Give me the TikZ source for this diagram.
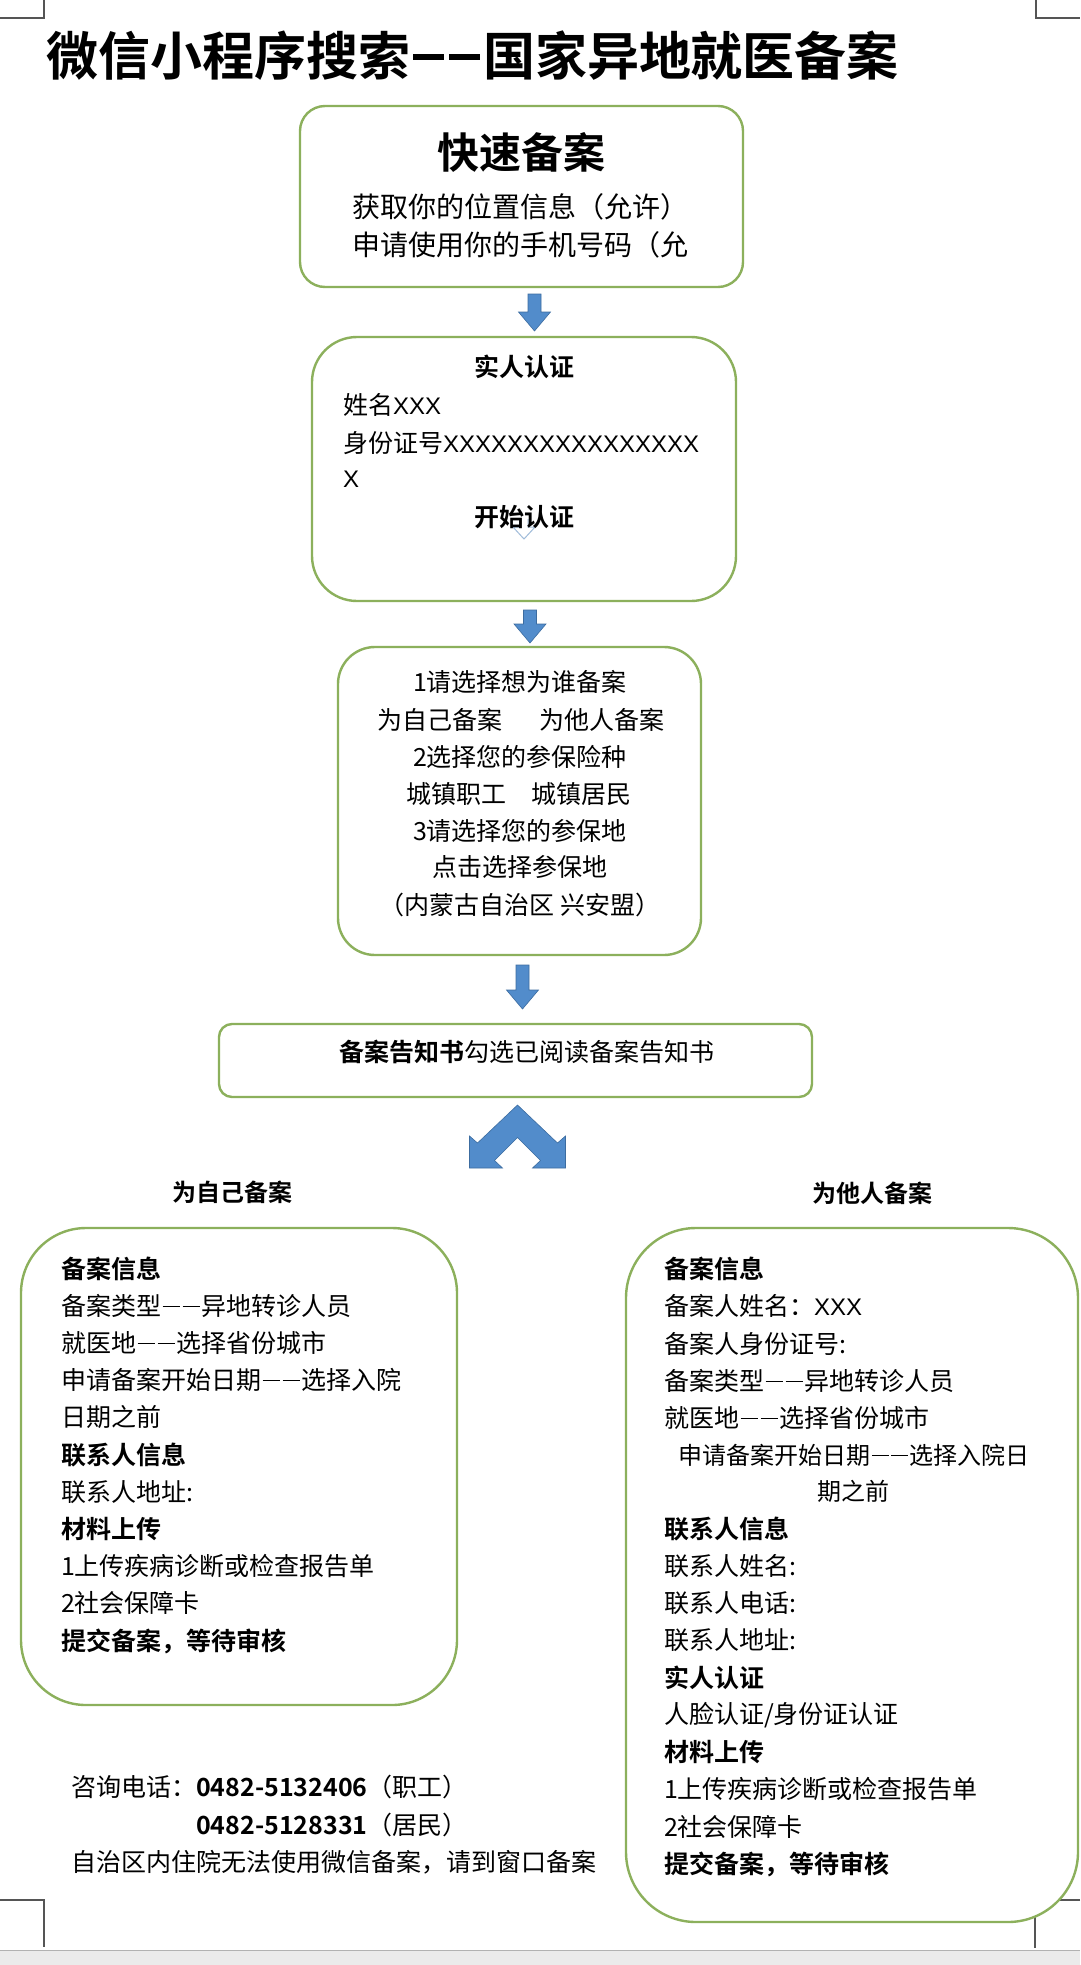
\documentclass[tikz,border=0pt]{standalone}
\usepackage{graphicx}
\usepackage{fontspec}
\setmainfont{Noto Sans CJK SC}[BoldFont={Noto Sans CJK SC Bold}]
\newfontfamily\latinx{Liberation Sans}
\usetikzlibrary{calc}
\definecolor{boxgreen}{RGB}{140,176,92}
\definecolor{arrowblue}{RGB}{82,140,203}
\definecolor{arrowedge}{RGB}{60,108,160}
\definecolor{markgray}{RGB}{85,85,85}
\definecolor{iconblue}{RGB}{160,188,218}
\newcommand\dbar[4]{\makebox[#1]{\rule[#4]{#2}{#3}}}
\newcommand\ddash{\dbar{0.8em}{0.68em}{0.07em}{0.33em}\dbar{0.8em}{0.68em}{0.07em}{0.33em}}
\newcommand\tdash{\dbar{0.7em}{0.6em}{0.11em}{0.31em}\dbar{0.7em}{0.6em}{0.11em}{0.31em}}
\newcommand\xx[1]{{\latinx\fontsize{24pt}{30pt}\selectfont #1}}
\tikzset{
  rbox/.style={draw=boxgreen, line width=2.4pt, fill=white, rounded corners=#1, inner sep=0pt, outer sep=0pt},
  txt/.style={inner sep=0pt, outer sep=0pt, text=black, font=\fontsize{25pt}{30pt}\selectfont},
  txtb/.style={inner sep=0pt, outer sep=0pt, text=black, font=\fontsize{25pt}{30pt}\selectfont\bfseries},
  cornermark/.style={draw=markgray, line width=1.4pt},
  pics/blockdown/.style={code={
    \fill[arrowblue, draw=arrowedge, line width=0.6pt]
      (-6.5,0) -- (6.5,0) -- (6.5,#1) -- (16,#1) -- (0,{#1+19}) -- (-16,#1) -- (-6.5,#1) -- cycle;
  }}
}
\begin{document}
\begin{tikzpicture}[x=1pt,y=-1pt]
\useasboundingbox (0,0) rectangle (1080,1965);
\fill[white] (0,0) rectangle (1080,1965);
% page corner marks and bottom strip
\draw[cornermark] (0,18) -- (44,18) -- (44,0);
\draw[cornermark] (1036,0) -- (1036,18) -- (1080,18);
\draw[cornermark] (0,1900) -- (44,1900) -- (44,1947);
\draw[cornermark] (1080,1900) -- (1035,1900) -- (1035,1948);
\fill[black!8] (0,1950) rectangle (1080,1965);
\draw[black!30, line width=1pt] (0,1950) -- (1080,1950);

% title
\node[inner sep=0pt, anchor=west, font=\fontsize{52pt}{56pt}\selectfont\bfseries] (title) at (46,56) {微信小程序搜索\tdash 国家异地就医备案};

% boxes
\node[rbox=25, minimum width=443pt, minimum height=181pt] (b1) at (521.5,196.5) {};
\node[rbox=45, minimum width=424pt, minimum height=264pt] (b2) at (524,469) {};
\node[rbox=37, minimum width=363pt, minimum height=308pt] (b3) at (519.5,801) {};
\node[rbox=13, minimum width=593pt, minimum height=73pt] (b4) at (515.5,1060.5) {};
\node[rbox=65, minimum width=436pt, minimum height=477pt] (bl) at (239,1466.5) {};
\node[rbox=70, minimum width=452pt, minimum height=694pt] (br) at (852,1575) {};

% block arrows between boxes
\pic at ($(b1.south)+(13,7)$) {blockdown=18};
\pic at ($(b2.south)+(6,9)$) {blockdown=14};
\pic at ($(b3.south)+(3,10)$) {blockdown=25};
\coordinate (chv) at ($(b4.south)+(2,8)$);
\begin{scope}[shift={(chv)}]
\fill[arrowblue, draw=arrowedge, line width=0.6pt]
  (0,0) -- (40,38) -- (48,31) -- (48,63) -- (15,63) -- (23,55.5) -- (0,32.5)
  -- (-23,55.5) -- (-15,63) -- (-48,63) -- (-48,31) -- (-40,38) -- cycle;
\end{scope}

% box 1
\node[inner sep=0pt, font=\fontsize{42pt}{48pt}\selectfont\bfseries] (t1a) at (521,152) {快速备案};
\node[txt, anchor=west, font=\fontsize{28pt}{32pt}\selectfont] (t1b) at (352,207) {获取你的位置信息（允许）};
\node[txt, anchor=west, font=\fontsize{28pt}{32pt}\selectfont] (t1c) at (352,245) {申请使用你的手机号码（允};

% box 2
\coordinate (ic) at ($(b2.center)+(0,50)$);
\draw[iconblue, line width=1pt] ($(ic)+(-4,0)$) -- ($(ic)+(-4,8)$) -- ($(ic)+(-11,8)$) -- ($(ic)+(0,20)$) -- ($(ic)+(11,8)$) -- ($(ic)+(4,8)$) -- ($(ic)+(4,0)$);
\node[txtb] (t2a) at (524,367) {实人认证};
\node[txt, anchor=west] (t2b) at (343,405) {姓名\xx{XXX}};
\node[txt, anchor=west] (t2c) at (343,443) {身份证号\xx{XXXXXXXXXXXXXXXX}};
\node[txt, anchor=west] (t2d) at (343,479) {\xx{X}};
\node[txtb] (t2e) at (524,517) {开始认证};

% box 3
\node[txt] (t3a) at (520,682) {1请选择想为谁备案};
\node[txt] (t3b) at (521,720) {为自己备案\hspace{37pt}为他人备案};
\node[txt] (t3c) at (520,757) {2选择您的参保险种};
\node[txt] (t3d) at (519,794) {城镇职工　城镇居民};
\node[txt] (t3e) at (520,831) {3请选择您的参保地};
\node[txt] (t3f) at (520,867) {点击选择参保地};
\node[txt] (t3g) at (520,905) {（内蒙古自治区 兴安盟）};

% box 4
\node[txt] (t4) at (527,1052) {\textbf{备案告知书}勾选已阅读备案告知书};

% branch labels
\node[txtb, font=\fontsize{24pt}{28pt}\selectfont\bfseries] (lself) at (232,1192) {为自己备案};
\node[txtb, font=\fontsize{24pt}{28pt}\selectfont\bfseries] (lother) at (872,1193) {为他人备案};

% left box
\node[txtb, anchor=west] (l1) at (61,1269) {备案信息};
\node[txt, anchor=west] (l2) at (61,1306) {备案类型\ddash 异地转诊人员};
\node[txt, anchor=west] (l3) at (61,1343) {就医地\ddash 选择省份城市};
\node[txt, anchor=west] (l4) at (61,1380) {申请备案开始日期\ddash 选择入院};
\node[txt, anchor=west] (l5) at (61,1417) {日期之前};
\node[txtb, anchor=west] (l6) at (61,1455) {联系人信息};
\node[txt, anchor=west] (l7) at (61,1492) {联系人地址:};
\node[txtb, anchor=west] (l8) at (61,1529) {材料上传};
\node[txt, anchor=west] (l9) at (61,1566) {1上传疾病诊断或检查报告单};
\node[txt, anchor=west] (l10) at (61,1603) {2社会保障卡};
\node[txtb, anchor=west] (l11) at (61,1641) {提交备案，等待审核};

% right box
\node[txtb, anchor=west] (r1) at (664,1269) {备案信息};
\node[txt, anchor=west] (r2) at (664,1306) {备案人姓名：\xx{XXX}};
\node[txt, anchor=west] (r3) at (664,1344) {备案人身份证号:};
\node[txt, anchor=west] (r4) at (664,1381) {备案类型\ddash 异地转诊人员};
\node[txt, anchor=west] (r5) at (664,1418) {就医地\ddash 选择省份城市};
\node[txt, font=\fontsize{24pt}{30pt}\selectfont] (r6) at (854,1455) {申请备案开始日期\ddash 选择入院日};
\node[txt, font=\fontsize{24pt}{30pt}\selectfont] (r7) at (853,1491) {期之前};
\node[txtb, anchor=west] (r8) at (664,1529) {联系人信息};
\node[txt, anchor=west] (r9) at (664,1566) {联系人姓名:};
\node[txt, anchor=west] (r10) at (664,1603) {联系人电话:};
\node[txt, anchor=west] (r11) at (664,1640) {联系人地址:};
\node[txtb, anchor=west] (r12) at (664,1678) {实人认证};
\node[txt, anchor=west] (r13) at (664,1715) {人脸认证/身份证认证};
\node[txtb, anchor=west] (r14) at (664,1752) {材料上传};
\node[txt, anchor=west] (r15) at (664,1789) {1上传疾病诊断或检查报告单};
\node[txt, anchor=west] (r16) at (664,1827) {2社会保障卡};
\node[txtb, anchor=west] (r17) at (664,1864) {提交备案，等待审核};

% footer
\node[txt, anchor=west] (f1) at (71,1787) {咨询电话：\textbf{0482-5132406}（职工）};
\node[txt, anchor=west] (f2) at (196,1825) {\textbf{0482-5128331}（居民）};
\node[txt, anchor=west] (f3) at (71,1862) {自治区内住院无法使用微信备案，请到窗口备案};
\end{tikzpicture}
\end{document}
